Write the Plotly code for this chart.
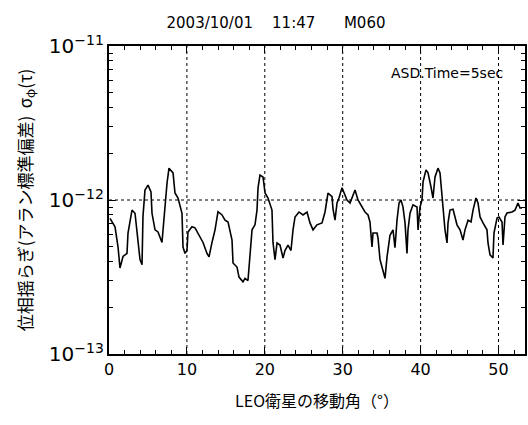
import math
import plotly.graph_objects as go

# LEO satellite movement angle (deg)
angle = [0.13, 0.77, 1.16, 1.41, 1.80, 2.31, 2.44, 2.95, 3.34, 3.59, 3.98, 4.24, 4.36, 4.62, 5.01, 5.39, 5.52,
         5.91, 6.29, 6.80, 6.93, 7.19, 7.45, 7.70, 8.09, 8.22, 8.47, 8.86, 9.37, 9.50, 9.76, 10.01, 10.14,
         10.65, 11.04, 11.68, 12.07, 12.58, 12.84, 13.22, 13.61, 13.99, 14.51, 14.89, 15.28, 15.79, 15.92,
         16.43, 16.69, 17.20, 17.46, 17.84, 18.10, 18.36, 18.74, 19.00, 19.13, 19.38, 19.77, 20.03, 20.41,
         20.92, 21.05, 21.31, 21.57, 21.95, 22.34, 22.59, 22.98, 23.36, 23.62, 23.88, 24.39, 24.90, 25.42,
         25.80, 26.19, 26.70, 27.34, 27.73, 28.11, 28.63, 28.75, 29.01, 29.27, 29.52, 29.91, 30.30, 30.55,
         30.94, 31.32, 31.58, 31.96, 32.48, 32.86, 33.25, 33.50, 33.76, 33.89, 34.40, 34.53, 34.79, 35.04,
         35.43, 35.69, 36.07, 36.46, 36.71, 36.97, 37.23, 37.48, 37.74, 38.00, 38.25, 38.38, 38.64, 39.02,
         39.54, 39.67, 39.92, 40.18, 40.31, 40.69, 40.95, 41.34, 41.59, 41.85, 42.23, 42.49, 42.75, 42.88,
         43.13, 43.39, 43.52, 43.77, 44.16, 44.67, 45.06, 45.44, 45.70, 46.09, 46.47, 46.73, 47.11, 47.37,
         47.63, 48.01, 48.52, 48.65, 48.91, 49.29, 49.42, 49.81, 50.06, 50.45, 50.58, 50.83, 51.09, 51.73,
         52.12, 52.50, 52.76, 53.02]

# Allan deviation of phase fluctuation (units of 1e-12)
adev_e12 = [0.76, 0.67, 0.495, 0.362, 0.43, 0.45, 0.61, 0.86, 0.82, 0.61, 0.41, 0.38, 0.78, 1.16, 1.25, 1.13, 0.82,
            0.64, 0.62, 0.53, 0.64, 0.96, 1.29, 1.61, 1.52, 1.50, 1.11, 1.03, 0.82, 0.495, 0.45, 0.47, 0.62,
            0.67, 0.66, 0.575, 0.53, 0.45, 0.427, 0.53, 0.64, 0.84, 0.80, 0.74, 0.72, 0.55, 0.39,
            0.367, 0.316, 0.294, 0.31, 0.30, 0.43, 0.64, 0.69, 0.86, 1.20, 1.45, 1.41, 1.11, 1.03,
            0.86, 0.53, 0.41, 0.526, 0.51, 0.42, 0.47, 0.51, 0.47, 0.64, 0.776, 0.836, 0.80, 0.836,
            0.71, 0.64, 0.69, 0.71, 0.836, 1.11, 1.05, 0.88, 0.74, 0.956, 1.03, 1.20, 1.08, 1.00,
            0.956, 1.08, 1.16, 1.00, 0.90, 0.836, 0.80, 0.72, 0.495, 0.61, 0.61, 0.567, 0.41, 0.367,
            0.31, 0.427, 0.59, 0.64, 0.49, 0.74, 0.956, 1.00, 0.90, 0.71, 0.45, 0.64, 0.82, 0.93,
            0.90, 0.64, 0.90, 1.00, 1.31, 1.57, 1.50, 1.21, 1.03, 1.41, 1.61, 1.50, 1.00, 0.86,
            0.64, 0.526, 0.71, 0.86, 0.87, 0.69, 0.64, 0.55, 0.64, 0.74, 0.72, 0.86, 1.03, 0.956,
            0.776, 0.71, 0.64, 0.526, 0.44, 0.42, 0.61, 0.764, 0.776, 0.72, 0.51, 0.776, 0.823, 0.836,
            0.86, 0.956, 0.887, 0.887]

adev = [v * 1e-12 for v in adev_e12]

x_ticks = [0, 10, 20, 30, 40, 50]
x_grid = [10, 20, 30, 40, 50]
y_grid = [1e-12]
x_range = [0, 53.4]
y_log_range = [-13, -11]

title_text = "2003/10/01&nbsp;&nbsp;&nbsp;&nbsp;11:47&nbsp;&nbsp;&nbsp;&nbsp;&nbsp;&nbsp;M060"
note_text = "ASD.Time=5sec"
x_title = "LEO衛星の移動角（°）"
y_title = "位相揺らぎ(アラン標準偏差)&nbsp;&nbsp;σ<sub>φ</sub>(τ)"

FONT = "DejaVu Sans, Noto Sans CJK JP, sans-serif"
JFONT = "Noto Sans CJK JP, sans-serif"

W, H = 528, 425

fig = go.Figure()
fig.add_trace(go.Scatter(x=angle, y=adev, mode="lines",
                         line=dict(color="black", width=1.6), showlegend=False))

# dotted grid lines (vertical at decade angles, horizontal at 1e-12)
for xv in x_grid:
    fig.add_shape(type="line", xref="x", yref="paper", x0=xv, x1=xv, y0=0, y1=1,
                  line=dict(color="black", width=1, dash="dot"), layer="below")
for yv in y_grid:
    frac = (math.log10(yv) - y_log_range[0]) / (y_log_range[1] - y_log_range[0])
    fig.add_shape(type="line", xref="paper", yref="paper", x0=0, x1=1, y0=frac, y1=frac,
                  line=dict(color="black", width=1, dash="dot"), layer="below")

fig.update_layout(
    template="none",
    width=W, height=H,
    margin=dict(l=109, r=3, t=46, b=71),
    paper_bgcolor="white", plot_bgcolor="white",
    font=dict(family=FONT, color="black", size=15),
    title=dict(text=title_text, x=276 / W, xanchor="center", xref="container",
               y=1 - 23 / H, yref="container", yanchor="middle",
               font=dict(size=15, family=FONT)),
    xaxis=dict(range=x_range, tickvals=x_ticks, ticks="inside", ticklen=7, tickwidth=1,
               tickcolor="black", showline=True, linecolor="black", linewidth=2, mirror="ticks",
               showgrid=False, automargin=False, zeroline=False,
               minor=dict(dtick=2, ticks="inside", ticklen=4, tickwidth=1, tickcolor="black"),
               tickfont=dict(size=16),
               title=dict(text=x_title, font=dict(size=16, family=JFONT), standoff=18)),
    yaxis=dict(type="log", range=y_log_range, dtick=1,
               exponentformat="power", showexponent="all",
               ticks="inside", ticklen=7, tickwidth=1, tickcolor="black", showline=True,
               linecolor="black", linewidth=2, mirror="ticks", showgrid=False, zeroline=False,
               tickfont=dict(size=16), automargin=False,
               minor=dict(dtick="D1", ticks="inside", ticklen=4, tickwidth=1, tickcolor="black"),
               title=dict(text=y_title, font=dict(size=17, family=JFONT), standoff=12)),
    annotations=[dict(text=note_text, xref="paper", yref="paper", x=0.952, y=0.912,
                      xanchor="right", yanchor="middle", showarrow=False,
                      font=dict(size=14, family=FONT))],
)

fig.write_html("out.html", config={"displayModeBar": False},
               post_script="document.body.style.margin='0';document.body.style.overflow='hidden';")
